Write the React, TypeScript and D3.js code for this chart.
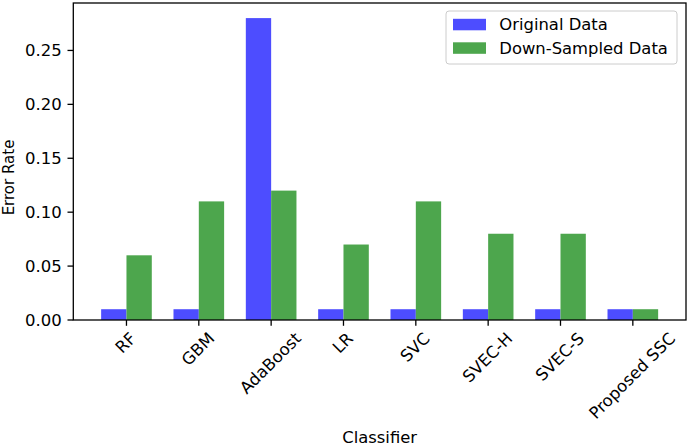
import { useEffect, useRef } from 'react';
import * as d3 from 'd3';

const classifiers = ['RF', 'GBM', 'AdaBoost', 'LR', 'SVC', 'SVEC-H', 'SVEC-S', 'Proposed SSC'];
const originalData = [0.01, 0.01, 0.28, 0.01, 0.01, 0.01, 0.01, 0.01];
const downSampledData = [0.06, 0.11, 0.12, 0.07, 0.11, 0.08, 0.08, 0.01];
const yTicks = [0, 0.05, 0.1, 0.15, 0.2, 0.25];
const seriesNames = ['Original Data', 'Down-Sampled Data'];
const seriesColors = ['rgb(77,77,255)', 'rgb(77,166,77)'];

const W = 689;
const H = 446;
const FONT = 'DejaVu Sans, sans-serif';

const App = () => {
  const svgRef = useRef<SVGSVGElement | null>(null);

  useEffect(() => {
    if (!svgRef.current) return;
    const svg = d3.select(svgRef.current);
    svg.selectAll('*').remove();

    const left = 73.3;
    const right = 686;
    const top = 3;
    const bottom = 320;
    const barW = 0.35;
    const n = classifiers.length;

    const x = d3.scaleLinear()
      .domain([-barW * 2 - 0.035, n - 1 + barW * 2 + 0.035])
      .range([left, right]);
    const yMax = d3.max(originalData.concat(downSampledData)) as number;
    const y = d3.scaleLinear().domain([0, yMax * 1.05]).range([bottom, top]);

    svg.append('rect').attr('width', W).attr('height', H).attr('fill', 'white');

    // bars
    const series = [originalData, downSampledData];
    series.forEach((vals, s) => {
      svg.append('g')
        .selectAll('rect')
        .data(vals)
        .enter()
        .append('rect')
        .attr('x', (d, i) => x(i - barW + s * barW))
        .attr('y', d => y(d))
        .attr('width', x(barW) - x(0))
        .attr('height', d => y(0) - y(d))
        .attr('fill', seriesColors[s]);
    });

    // y ticks
    const yg = svg.append('g');
    yTicks.forEach(t => {
      yg.append('line')
        .attr('x1', left - 5.8).attr('x2', left)
        .attr('y1', y(t)).attr('y2', y(t))
        .attr('stroke', 'black').attr('stroke-width', 1.3);
      yg.append('text')
        .attr('x', left - 11.6)
        .attr('y', y(t))
        .attr('dy', '0.36em')
        .attr('text-anchor', 'end')
        .style('font-family', FONT)
        .style('font-size', '16.5px')
        .text(d3.format('.2f')(t));
    });

    // x ticks and rotated labels
    const xg = svg.append('g');
    const fs = 16.5;
    classifiers.forEach((c, i) => {
      xg.append('line')
        .attr('x1', x(i)).attr('x2', x(i))
        .attr('y1', bottom).attr('y2', bottom + 5.8)
        .attr('stroke', 'black').attr('stroke-width', 1.3);
      const t = xg.append('text')
        .attr('text-anchor', 'middle')
        .style('font-family', FONT)
        .style('font-size', fs + 'px')
        .text(c);
      const L = (t.node() as SVGTextElement).getComputedTextLength();
      const mx = x(i) + 0.2 * fs;
      const my = 331 + 0.707 * (L / 2 + 0.73 * fs);
      t.attr('transform', `translate(${mx},${my}) rotate(-45)`);
    });

    // frame
    svg.append('rect')
      .attr('x', left).attr('y', top)
      .attr('width', right - left).attr('height', bottom - top)
      .attr('fill', 'none').attr('stroke', 'black').attr('stroke-width', 1.3);

    // axis labels
    svg.append('text')
      .attr('x', (left + right) / 2).attr('y', 443)
      .attr('text-anchor', 'middle')
      .style('font-family', FONT)
      .style('font-size', '16.4px')
      .text('Classifier');
    svg.append('text')
      .attr('transform', `translate(14,177.5) rotate(-90)`)
      .attr('text-anchor', 'middle')
      .style('font-family', FONT)
      .style('font-size', '15px')
      .text('Error Rate');

    // legend
    const lg = svg.append('g');
    lg.append('rect')
      .attr('x', 446).attr('y', 11).attr('width', 231).attr('height', 53)
      .attr('rx', 3)
      .attr('fill', 'white').attr('fill-opacity', 0.8)
      .attr('stroke', '#cccccc').attr('stroke-width', 1);
    seriesNames.forEach((name, k) => {
      const cy = 24.5 + k * 23.5;
      lg.append('rect')
        .attr('x', 453).attr('y', cy - 5.7).attr('width', 33).attr('height', 11.5)
        .attr('fill', seriesColors[k]);
      lg.append('text')
        .attr('x', 499.3).attr('y', cy)
        .attr('dy', '0.36em')
        .style('font-family', FONT)
        .style('font-size', '16.4px')
        .text(name);
    });
  }, []);

  return (
    <svg
      ref={svgRef}
      width={W}
      height={H}
      style={{ position: 'absolute', left: 0, top: 0 }}
    />
  );
};

export default App;
